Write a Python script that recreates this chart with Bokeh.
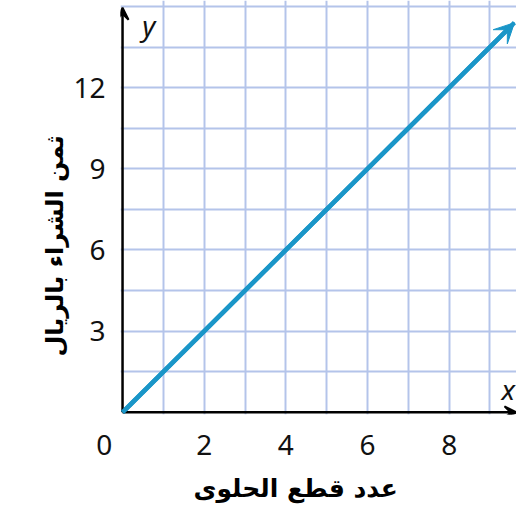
from bokeh.plotting import figure
from bokeh.models import FixedTicker, Arrow, VeeHead, Label, Title
from bokeh.embed import file_html
from bokeh.resources import INLINE

# data
line_x = [0, 9.6]
line_y = [0, 14.4]
x_ticks = [0, 2, 4, 6, 8]
y_ticks = [3, 6, 9, 12]
x_tick_labels = {0: "0\u00a0\u00a0\u00a0\u00a0\u00a0"}
x_grid = [1, 2, 3, 4, 5, 6, 7, 8, 9]
y_grid = [1.5, 3, 4.5, 6, 7.5, 9, 10.5, 12, 13.5, 15]
x_title = "عدد قطع الحلوى"
y_title = "ثمن الشراء بالريال"

NUM_FONT = "Noto Sans"
AR_FONT = "DejaVu Sans"
BLUE = "#1a96c8"

p = figure(width=516, height=509, x_range=(-0.05, 9.65), y_range=(-0.08, 15.22),
           min_border_left=120, min_border_right=0, min_border_top=0,
           min_border_bottom=94, output_backend="svg", toolbar_location=None,
           outline_line_color=None)

p.xgrid.ticker = FixedTicker(ticks=x_grid)
p.ygrid.ticker = FixedTicker(ticks=y_grid)
p.xgrid.bounds = (0, 15)
p.ygrid.bounds = (0, 10)
for g in (p.xgrid, p.ygrid):
    g.grid_line_color = "#b4c4ea"
    g.grid_line_width = 2

for ax in (p.xaxis, p.yaxis):
    ax.axis_line_color = None
    ax.major_tick_line_color = None
    ax.minor_tick_line_color = None
    ax.major_tick_out = 0
    ax.major_tick_in = 0
    ax.major_label_text_font = NUM_FONT
    ax.major_label_text_font_size = "28px"
    ax.major_label_text_color = "#111111"
p.xaxis.ticker = FixedTicker(ticks=x_ticks)
p.xaxis.major_label_overrides = x_tick_labels
p.yaxis.ticker = FixedTicker(ticks=y_ticks)
p.xaxis.major_label_standoff = 10
p.yaxis.major_label_standoff = 15

# titles
p.add_layout(Title(text=x_title, align="left", offset=73, text_font=AR_FONT,
                   text_font_style="bold", text_font_size="25px", text_color="black",
                   standoff=13), "below")
p.add_layout(Title(text=y_title, align="left", offset=58, text_font=AR_FONT,
                   text_font_style="bold", text_font_size="24px", text_color="black",
                   vertical_align="top", standoff=0), "left")

# axes with arrows
p.add_layout(Arrow(end=VeeHead(size=12, line_color="black", fill_color="black", line_width=2),
                   x_start=0, y_start=0, x_end=9.65, y_end=0,
                   line_color="black", line_width=2.5))
p.add_layout(Arrow(end=VeeHead(size=12, line_color="black", fill_color="black", line_width=2),
                   x_start=0, y_start=0, x_end=0, y_end=14.95,
                   line_color="black", line_width=2.5))

# data line
p.line(line_x, line_y, line_color=BLUE, line_width=4.5)
p.add_layout(Arrow(end=VeeHead(size=20, line_color=BLUE, fill_color=BLUE, line_width=1),
                   x_start=line_x[0], y_start=line_y[0],
                   x_end=line_x[-1], y_end=line_y[-1],
                   line_color=BLUE, line_width=4.5))

# axis letters
p.add_layout(Label(x=9.45, y=0.85, text="x", text_font=NUM_FONT, text_font_style="italic",
                   text_font_size="28px", text_align="center", text_baseline="middle",
                   text_color="#111111"))
p.add_layout(Label(x=0.64, y=14.3, text="y", text_font=NUM_FONT, text_font_style="italic",
                   text_font_size="28px", text_align="center", text_baseline="middle",
                   text_color="#111111"))

open("out.html", "w").write(file_html(p, INLINE))
